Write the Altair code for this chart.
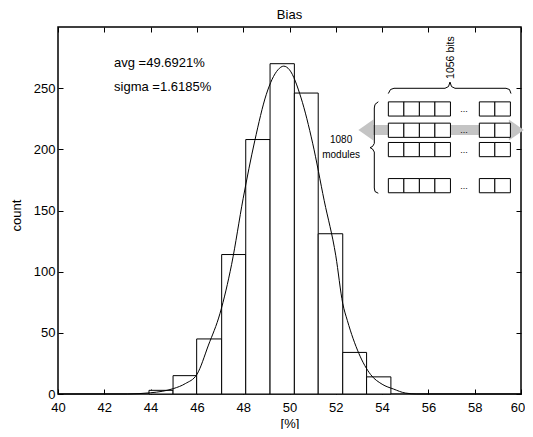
import altair as alt
import pandas as pd

FONT = "Liberation Sans"

# ---- histogram ----
bin_lo = [43.93, 44.97, 45.99, 47.07, 48.11, 49.16, 50.21, 51.24, 52.30, 53.33]
bin_hi = [44.97, 45.99, 47.07, 48.11, 49.16, 50.21, 51.24, 52.30, 53.33, 54.38]
counts = [3, 15, 45, 114, 208, 270, 246, 131, 34, 14]

# ---- fitted curve ----
curve_x = [40, 43, 43.5, 44, 44.5, 45, 45.5, 46, 46.5, 47, 47.5, 48, 48.5, 49, 49.5,
           49.75, 50, 50.5, 51, 51.5, 52, 52.3, 52.5, 53, 53.5, 54, 54.5, 55, 55.5, 60]
curve_y = [0, 0, 0.3, 1, 2.2, 4.5, 8.5, 16, 40, 66, 106, 160, 207, 245, 265,
           268, 265, 242, 205, 158, 113, 74, 60, 33, 16, 8, 4, 0.8, 0, 0]

x_ticks = [40, 42, 44, 46, 48, 50, 52, 54, 56, 58, 60]
y_ticks = [0, 50, 100, 150, 200, 250]

# ---- stats text ----
stat_text = ["avg =49.6921%", "sigma =1.6185%"]
stat_x = [42.42, 42.42]
stat_y = [270.5, 250.9]

# ---- inset diagram (in data units) ----
cell_left = [54.27, 54.94, 55.61, 56.28, 58.20, 58.87]
cell_w = 0.672
row_bottom = [227.2, 209.8, 194.0, 164.5]
row_h = 11.6
dots_x = 57.54

arrow_body = {"x": [53.61], "x2": [59.53], "y": [219.9], "y2": [211.7]}
arrow_heads_x = [53.30, 59.80]
arrow_heads_y = [215.8, 215.8]
arrow_heads_dir = ["left", "right"]

top_brace_x = [54.268, 54.363, 54.514, 56.717, 56.868, 56.933, 56.998, 57.149, 59.352, 59.503, 59.568]
top_brace_y = [245.6, 248.9, 249.9, 249.9, 251.3, 255.0, 251.3, 249.9, 249.9, 248.9, 245.6]

left_brace_x = [53.836, 53.693, 53.663, 53.663, 53.585, 53.478, 53.585, 53.663, 53.663, 53.693, 53.836]
left_brace_y = [238.9, 236.7, 233.8, 204.8, 202.3, 201.4, 200.3, 197.8, 168.4, 165.5, 164.1]

diag_text = ["1080", "modules"]
diag_text_x = [52.23, 52.23]
diag_text_y = [207.6, 195.4]
bits_text = "1056 bits"
bits_x = 56.98
bits_y = 275.0

# ---- data frames ----
bars = pd.DataFrame({"lo": bin_lo, "hi": bin_hi, "count": counts})
curve = pd.DataFrame({"cx": curve_x, "cy": curve_y})
stats = pd.DataFrame({"t": stat_text, "sx": stat_x, "sy": stat_y})
cells = pd.DataFrame([
    {"x": c, "x2": c + cell_w, "y": r, "y2": r + row_h}
    for r in row_bottom for c in cell_left
])
dots = pd.DataFrame({"x": [dots_x] * len(row_bottom),
                     "y": [r + row_h / 2 for r in row_bottom],
                     "t": ["..."] * len(row_bottom)})
body = pd.DataFrame(arrow_body)
heads = pd.DataFrame({"x": arrow_heads_x, "y": arrow_heads_y, "d": arrow_heads_dir})
tbrace = pd.DataFrame({"x": top_brace_x, "y": top_brace_y, "o": list(range(len(top_brace_x)))})
lbrace = pd.DataFrame({"x": left_brace_x, "y": left_brace_y, "o": list(range(len(left_brace_x)))})
dtext = pd.DataFrame({"x": diag_text_x, "y": diag_text_y, "t": diag_text})
btext = pd.DataFrame({"x": [bits_x], "y": [bits_y], "t": [bits_text]})

xs = alt.Scale(domain=[40, 60], nice=False, zero=False)
ys = alt.Scale(domain=[0, 300], nice=False, zero=False)

ax_common = dict(domain=False, grid=False, tickSize=5, offset=-5, tickColor="#000",
                 tickWidth=1, labelFont=FONT, labelFontSize=13, labelColor="#000",
                 titleFont=FONT, titleFontSize=13, titleColor="#000",
                 titleFontWeight="normal")

x_axis_bottom = alt.Axis(values=x_ticks, orient="bottom", labelPadding=7, labelFlush=False,
                         labelOffset={"condition": {"test": "datum.value == 60", "value": -3.5},
                                      "value": 0},
                         title="[%]", titlePadding=3, format="d", **ax_common)
y_axis_left = alt.Axis(values=y_ticks, orient="left", labelPadding=3, labelFlush=False,
                       title="count", titleX=-47, titleY=188, titleAngle=270,
                       titleBaseline="middle", titleAlign="center", format="d", **ax_common)
x_axis_top = alt.Axis(values=x_ticks, orient="top", labels=False, title="", **ax_common)
y_axis_right = alt.Axis(values=y_ticks, orient="right", labels=False, title="", **ax_common)

bar_layer = alt.Chart(bars).mark_rect(fill="white", stroke="#000", strokeWidth=1).encode(
    x=alt.X("lo:Q", scale=xs, axis=x_axis_bottom),
    x2="hi:Q",
    y=alt.Y("count:Q", scale=ys, axis=y_axis_left),
    y2=alt.datum(0),
)

curve_layer = alt.Chart(curve).mark_line(color="#000", strokeWidth=1, interpolate="monotone").encode(
    x=alt.X("cx:Q", scale=xs, axis=x_axis_top),
    y=alt.Y("cy:Q", scale=ys, axis=y_axis_right),
)

stats_layer = alt.Chart(stats).mark_text(font=FONT, fontSize=13, align="left",
                                         baseline="middle", color="#000").encode(
    x=alt.X("sx:Q", scale=xs, axis=None),
    y=alt.Y("sy:Q", scale=ys, axis=None),
    text="t:N",
)

gray = "#c4c4c4"
body_layer = alt.Chart(body).mark_rect(color=gray).encode(
    x=alt.X("x:Q", scale=xs, axis=None), x2="x2:Q",
    y=alt.Y("y:Q", scale=ys, axis=None), y2="y2:Q",
)

left_path = "M -0.714 0 L 0.714 -1 L 0.714 1 Z"
right_path = "M 0.714 0 L -0.714 -1 L -0.714 1 Z"
heads_layer = alt.Chart(heads).mark_point(filled=True, size=441, opacity=1,
                                          color=gray, strokeWidth=0).encode(
    x=alt.X("x:Q", scale=xs, axis=None),
    y=alt.Y("y:Q", scale=ys, axis=None),
    shape=alt.Shape("d:N", scale=alt.Scale(domain=["left", "right"],
                                           range=[left_path, right_path]), legend=None),
)

cells_layer = alt.Chart(cells).mark_rect(fill="white", stroke="#000", strokeWidth=1).encode(
    x=alt.X("x:Q", scale=xs, axis=None), x2="x2:Q",
    y=alt.Y("y:Q", scale=ys, axis=None), y2="y2:Q",
)

dots_layer = alt.Chart(dots).mark_text(font=FONT, fontSize=9, color="#000",
                                       baseline="middle", align="center").encode(
    x=alt.X("x:Q", scale=xs, axis=None),
    y=alt.Y("y:Q", scale=ys, axis=None),
    text="t:N",
)

tbrace_layer = alt.Chart(tbrace).mark_line(color="#000", strokeWidth=1).encode(
    x=alt.X("x:Q", scale=xs, axis=None),
    y=alt.Y("y:Q", scale=ys, axis=None),
    order="o:Q",
)
lbrace_layer = alt.Chart(lbrace).mark_line(color="#000", strokeWidth=1).encode(
    x=alt.X("x:Q", scale=xs, axis=None),
    y=alt.Y("y:Q", scale=ys, axis=None),
    order="o:Q",
)

dtext_layer = alt.Chart(dtext).mark_text(font=FONT, fontSize=10, color="#000",
                                         baseline="middle", align="center").encode(
    x=alt.X("x:Q", scale=xs, axis=None),
    y=alt.Y("y:Q", scale=ys, axis=None),
    text="t:N",
)
btext_layer = alt.Chart(btext).mark_text(font=FONT, fontSize=10.5, color="#000",
                                         baseline="middle", align="center", angle=270).encode(
    x=alt.X("x:Q", scale=xs, axis=None),
    y=alt.Y("y:Q", scale=ys, axis=None),
    text="t:N",
)

chart = alt.layer(
    bar_layer, curve_layer, stats_layer, body_layer, heads_layer, cells_layer,
    dots_layer, tbrace_layer, lbrace_layer, dtext_layer, btext_layer,
).resolve_axis(x="independent", y="independent").properties(
    width=463, height=367,
    autosize=alt.AutoSizeParams(type="none"),
    padding={"left": 50, "top": 19, "right": 4, "bottom": 35},
    title=alt.TitleParams("Bias", font=FONT, fontSize=13, fontWeight="normal",
                          color="#000", offset=5),
).configure(background="white").configure_view(stroke="#000", strokeWidth=1.5)

chart.save("out.html", embed_options={"renderer": "svg", "actions": False})
